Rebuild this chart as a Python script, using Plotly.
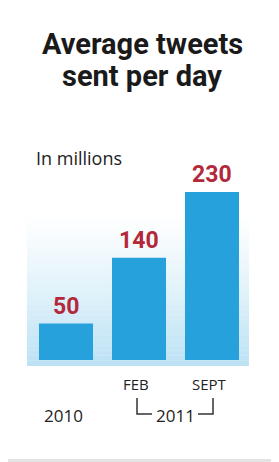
import plotly.graph_objects as go

# ---- data ----
categories = ["2010", "FEB 2011", "SEPT 2011"]
values = [50, 140, 230]
month_labels = ["", "FEB", "SEPT"]
year_labels = ["2010", "2011"]
title_lines = ["Average tweets", "sent per day"]
unit_label = "In millions"

# the page body has an 8px margin; figure pixels = reference pixels - 8
OFF = 8
W, H = 279 - OFF, 462 - OFF
def py(p):
    return 1 - (p - OFF) / H
def px(p):
    return (p - OFF) / W

BAR = "#27a1dc"
RED = "#b3283b"
TITLE_FONT = "Roboto, Liberation Sans, sans-serif"
SANS = "Open Sans, Noto Sans, sans-serif"

xs = list(range(len(categories)))

fig = go.Figure()
fig.add_trace(go.Bar(
    x=xs, y=values, width=0.74, marker=dict(color=BAR, line=dict(width=0)),
    hoverinfo="skip", showlegend=False,
))

# y scale: bar baseline at 360px (reference), ~0.73 px per unit
k = 0.73
y1 = (360 - OFF) / k
y0 = y1 - H / k
# x scale: bar centers at 66,139,212 px (reference)
kx = 73.0
x0 = -(66 - OFF) / kx
x1 = x0 + W / kx

fig.update_layout(
    width=W, height=H, margin=dict(l=0, r=0, t=0, b=0),
    paper_bgcolor="white", plot_bgcolor="rgba(0,0,0,0)",
    xaxis=dict(range=[x0, x1], visible=False, fixedrange=True),
    yaxis=dict(range=[y0, y1], visible=False, fixedrange=True),
)

shapes = []
# gradient backdrop
top, bot = 212, 366
n = 30
for i in range(n):
    a = top + (bot - top) * i / n
    b = top + (bot - top) * (i + 1) / n
    alpha = 0.72 * ((i + 0.5) / n) ** 1.2
    shapes.append(dict(type="rect", xref="paper", yref="paper",
                       x0=px(27), x1=px(249), y0=py(b), y1=py(a),
                       fillcolor=f"rgba(160,214,240,{alpha:.3f})", line=dict(width=0), layer="below"))
# bottom grey band
shapes.append(dict(type="rect", xref="paper", yref="paper", x0=0, x1=1, y0=0, y1=py(459),
                   fillcolor="#e3e3e3", line=dict(width=0)))
# 2011 brackets
bc = "#333333"
shapes.append(dict(type="path", xref="paper", yref="paper",
                   path=f"M {px(137)} {py(398)} L {px(137)} {py(414)} L {px(152)} {py(414)}",
                   line=dict(color=bc, width=1.5)))
shapes.append(dict(type="path", xref="paper", yref="paper",
                   path=f"M {px(198)} {py(414)} L {px(213)} {py(414)} L {px(213)} {py(398)}",
                   line=dict(color=bc, width=1.5)))
fig.update_layout(shapes=shapes)

ann = []
# title
for i, line in enumerate(title_lines):
    ann.append(dict(text=f"<b>{line}</b>", xref="paper", yref="paper", x=px(142), y=py(44 + 32 * i),
                    xanchor="center", yanchor="middle", showarrow=False,
                    font=dict(family=TITLE_FONT, size=29, color="#1a1a1a")))
ann.append(dict(text=unit_label, xref="paper", yref="paper", x=px(34), y=py(158),
                xanchor="left", yanchor="middle", showarrow=False,
                font=dict(family=SANS, size=18, color="#222222")))
# value labels
for x, v in zip(xs, values):
    ann.append(dict(text=f"<b>{v}</b>", x=x, y=v, xref="x", yref="y", yanchor="bottom",
                    xanchor="center", showarrow=False, yshift=2,
                    font=dict(family=TITLE_FONT, size=23, color=RED)))
# month labels
for x, m in zip(xs, month_labels):
    if m:
        ann.append(dict(text=m, x=x, xref="x", yref="paper", y=py(384), yanchor="middle",
                        xanchor="center", xshift=-3, showarrow=False,
                        font=dict(family=SANS, size=15, color="#222222")))
ann.append(dict(text=year_labels[0], x=xs[0], xref="x", yref="paper", y=py(415), yanchor="middle",
                xanchor="center", xshift=-3, showarrow=False,
                font=dict(family=SANS, size=17, color="#222222")))
ann.append(dict(text=year_labels[1], x=(xs[1] + xs[2]) / 2, xref="x", yref="paper", y=py(415),
                yanchor="middle", xanchor="center", showarrow=False,
                font=dict(family=SANS, size=17, color="#222222")))
fig.update_layout(annotations=ann)

fig.write_html("out.html")
